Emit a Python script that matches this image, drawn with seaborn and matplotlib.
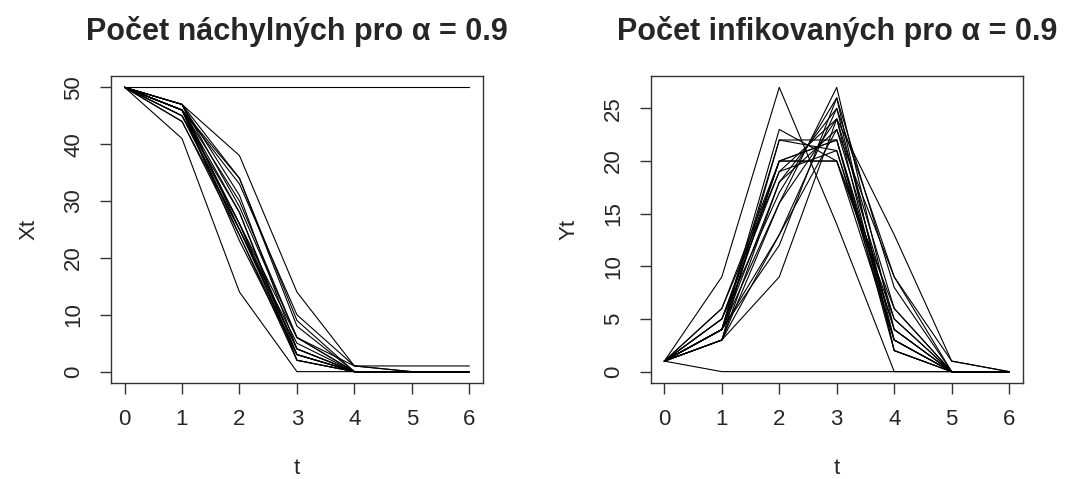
import numpy as np
import pandas as pd
import matplotlib
matplotlib.use("Agg")
import matplotlib.pyplot as plt
import seaborn as sns

# time steps
t_vals = [0, 1, 2, 3, 4, 5, 6]

# Number of susceptibles X_t for each simulated run
X_runs = [
    [50, 41, 14, 0, 0, 0, 0],
    [50, 50, 50, 50, 50, 50, 50],
    [50, 47, 38, 14, 1, 0, 0],
    [50, 46, 33, 10, 1, 0, 0],
    [50, 45, 25, 5, 0, 0, 0],
    [50, 47, 25, 3, 0, 0, 0],
    [50, 46, 23, 3, 0, 0, 0],
    [50, 44, 25, 4, 0, 0, 0],
    [50, 46, 28, 3, 0, 0, 0],
    [50, 47, 31, 4, 0, 0, 0],
    [50, 45, 28, 2, 0, 0, 0],
    [50, 46, 26, 6, 0, 0, 0],
    [50, 47, 34, 9, 0, 0, 0],
    [50, 46, 34, 8, 0, 0, 0],
    [50, 46, 24, 3, 0, 0, 0],
    [50, 45, 26, 2, 0, 0, 0],
    [50, 46, 26, 4, 0, 0, 0],
    [50, 47, 29, 6, 1, 1, 1],
    [50, 44, 24, 2, 0, 0, 0],
    [50, 46, 30, 6, 0, 0, 0],
]

# Number of infected Y_t for each simulated run
Y_runs = [
    [1, 9, 27, 14, 0, 0, 0],
    [1, 0, 0, 0, 0, 0, 0],
    [1, 3, 9, 24, 13, 1, 0],
    [1, 4, 13, 23, 9, 1, 0],
    [1, 5, 20, 20, 5, 0, 0],
    [1, 3, 22, 22, 3, 0, 0],
    [1, 4, 23, 20, 3, 0, 0],
    [1, 6, 19, 21, 4, 0, 0],
    [1, 4, 18, 25, 3, 0, 0],
    [1, 3, 16, 27, 4, 0, 0],
    [1, 5, 17, 26, 2, 0, 0],
    [1, 4, 20, 20, 6, 0, 0],
    [1, 3, 13, 25, 9, 0, 0],
    [1, 4, 12, 26, 8, 0, 0],
    [1, 4, 22, 21, 3, 0, 0],
    [1, 5, 19, 24, 2, 0, 0],
    [1, 4, 20, 22, 4, 0, 0],
    [1, 3, 18, 23, 5, 0, 0],
    [1, 6, 20, 22, 2, 0, 0],
    [1, 4, 16, 24, 6, 0, 0],
]

titles = ["Počet náchylných pro α = 0.9", "Počet infikovaných pro α = 0.9"]
ylabels = ["Xt", "Yt"]
xlabel = "t"
yticks_left = [0, 10, 20, 30, 40, 50]
yticks_right = [0, 5, 10, 15, 20, 25]

def to_long(runs):
    rows = []
    for i, r in enumerate(runs):
        for t, v in zip(t_vals, r):
            rows.append({"run": i, "t": t, "v": v})
    return pd.DataFrame(rows)

sns.set_theme(style="white")
plt.rcParams['font.family'] = ['Liberation Sans', 'DejaVu Sans']

fig = plt.figure(figsize=(10.70, 4.79), dpi=100)
ax1 = fig.add_axes([0.1035, 0.2004, 0.348, 0.641])
ax2 = fig.add_axes([0.608, 0.2004, 0.348, 0.641])

for ax, runs, title, yl, yt in [
    (ax1, X_runs, titles[0], ylabels[0], yticks_left),
    (ax2, Y_runs, titles[1], ylabels[1], yticks_right),
]:
    df = to_long(runs)
    sns.lineplot(data=df, x="t", y="v", units="run", estimator=None,
                 color="black", linewidth=0.8, ax=ax, legend=False)
    vmax = max(max(r) for r in runs)
    pad = 0.04 * vmax
    ax.set_ylim(-pad, vmax + pad)
    ax.set_xlim(-0.24, 6.24)
    ax.set_xticks(t_vals)
    ax.set_yticks(yt)
    ax.set_xticklabels([str(t) for t in t_vals], fontsize=16)
    ax.set_yticklabels([str(v) for v in yt], fontsize=16, rotation=90, va="center")
    ax.tick_params(axis="both", direction="out", length=8, width=1,
                   color="#333333", bottom=True, left=True)
    ax.tick_params(axis="x", pad=11)
    ax.tick_params(axis="y", pad=11)
    for s in ax.spines.values():
        s.set_color("#333333")
        s.set_linewidth(1.0)
    ax.set_title(title, fontsize=22, fontweight="bold", pad=26)
    ax.set_xlabel(xlabel, fontsize=16, labelpad=20)
    ax.set_ylabel(yl, fontsize=16, labelpad=17)

fig.savefig("out.png", dpi=100)
